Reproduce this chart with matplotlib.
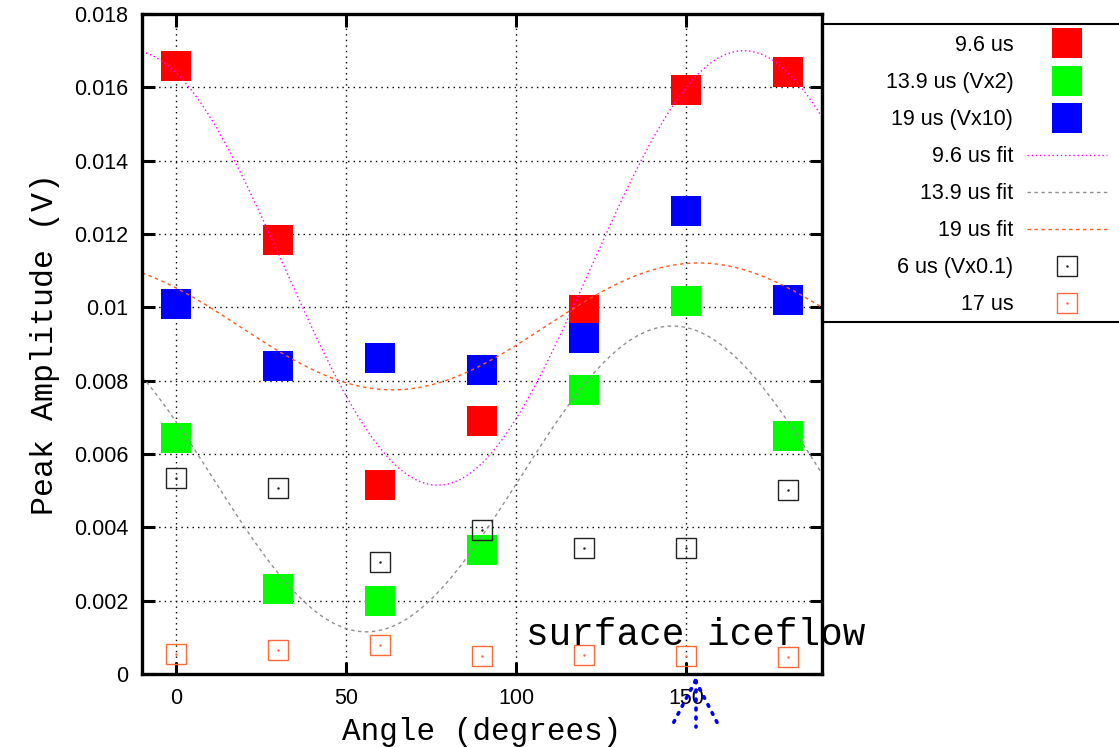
import numpy as np
import matplotlib
matplotlib.use('Agg')
import matplotlib.pyplot as plt
from matplotlib.patches import Rectangle
from matplotlib.legend_handler import HandlerTuple

# measured peak amplitudes (V) vs angle
angle = [0, 30, 60, 90, 120, 150, 180]
amp_96 = [0.01658, 0.01184, 0.00515, 0.00690, 0.00993, 0.01593, 0.01642]
amp_139 = [0.00644, 0.00232, 0.00199, 0.00338, 0.00775, 0.01017, 0.00649]
amp_19 = [0.01009, 0.00840, 0.00862, 0.00829, 0.00916, 0.01263, 0.01020]
amp_6 = [0.00535, 0.00507, 0.00305, 0.00393, 0.00344, 0.00344, 0.00502]
amp_17 = [0.00055, 0.00065, 0.00079, 0.00049, 0.00052, 0.00049, 0.00046]

# sinusoid fit parameters: offset, amplitude, angle of peak, period
fit_96 = (0.011075, 0.005925, 167.0, 180.0)
fit_139 = (0.00532, 0.00417, 146.0, 180.0)
fit_19 = (0.00948, 0.00173, 153.7, 180.0)


def fitfunc(x, p):
    c, a, x0, per = p
    return c + a*np.cos(2*np.pi*(x - x0)/per)


sans = 'Liberation Sans'
mono = 'Liberation Mono'
plt.rcParams['font.family'] = sans

W, H = 1119, 747
fig = plt.figure(figsize=(W/100, H/100), dpi=100)
ax = fig.add_axes([142/W, 1-674/H, (822-142)/W, (674-14)/H])

xs = np.linspace(-10, 190, 400)

h1, = ax.plot(angle, amp_96, 's', color='#ff0000', ms=21.6, mew=0, ls='none')
h2, = ax.plot(angle, amp_139, 's', color='#00ff00', ms=21.6, mew=0, ls='none')
h3, = ax.plot(angle, amp_19, 's', color='#0000ff', ms=21.6, mew=0, ls='none')
f1, = ax.plot(xs, fitfunc(xs, fit_96), color='#ff00ff', lw=1.0, ls=(0, (1, 2)))
f2, = ax.plot(xs, fitfunc(xs, fit_139), color='#909090', lw=1.0, ls=(0, (2.5, 2.5)))
f3, = ax.plot(xs, fitfunc(xs, fit_19), color='#ff5a1e', lw=1.0, ls=(0, (2.5, 2.5)))
s6, = ax.plot(angle, amp_6, 's', mfc='none', mec='#222222', ms=14.4, mew=1.0, ls='none')
d6, = ax.plot(angle, amp_6, '.', color='#222222', ms=1.5, ls='none')
s17, = ax.plot(angle, amp_17, 's', mfc='none', mec='#ff6a3a', ms=14.4, mew=1.0, ls='none')
d17, = ax.plot(angle, amp_17, '.', color='#ff6a3a', ms=1.5, ls='none')

ax.set_xlim(-10, 190)
ax.set_ylim(0, 0.018)
ax.set_xticks([0, 50, 100, 150])
ax.set_yticks(np.arange(0, 0.0181, 0.002))
ax.set_yticklabels(['0', '0.002', '0.004', '0.006', '0.008', '0.01',
                    '0.012', '0.014', '0.016', '0.018'])
ax.grid(True, color='black', ls=(0, (1, 3)), lw=1.0)
ax.set_axisbelow(True)
ax.tick_params(direction='in', length=9, width=2.2, labelsize=15.5, pad=10,
               top=True, right=True)
for sp in ax.spines.values():
    sp.set_linewidth(2.4)

ax.set_xlabel('Angle (degrees)', family=mono, fontsize=22.3, labelpad=6)
ax.set_ylabel('Peak Amplitude (V)', family=mono, fontsize=22.8, labelpad=10)

ax.text(103, 0.00079, 'surface iceflow', family=mono, fontsize=27.1,
        va='baseline', ha='left')

# blue dotted arrow under the axis
tr = ax.get_xaxis_transform()
for xe in [145.7, 152.8, 159.8]:
    ax.plot([152.8, xe], [-0.01, -0.08], transform=tr, color='blue', lw=2.6,
            ls=(0, (0.5, 2.0)), clip_on=False, solid_capstyle='round',
            dash_capstyle='round')

# legend box outside on the right
fig.patches.append(Rectangle((822/W, 1-322/H), (1125-822)/W, (322-24)/H,
                             transform=fig.transFigure, fill=False,
                             edgecolor='black', lw=1.5))
handles = [h1, h2, h3, f1, f2, f3, (s6, d6), (s17, d17)]
labels = ['9.6 us', '13.9 us (Vx2)', '19 us (Vx10)', '9.6 us fit',
          '13.9 us fit', '19 us fit', '6 us (Vx0.1)', '17 us']
leg = fig.legend(handles, labels, loc='upper right',
                 bbox_to_anchor=(1107/W, 1-35/H), frameon=False,
                 markerfirst=False, fontsize=15.5, handlelength=3.7,
                 handletextpad=0.65, labelspacing=0.745, borderpad=0,
                 borderaxespad=0,
                 handler_map={tuple: HandlerTuple(ndivide=1, pad=0)})
for t in leg.get_texts():
    t.set_ha('right')

fig.savefig('out.png', dpi=100)
